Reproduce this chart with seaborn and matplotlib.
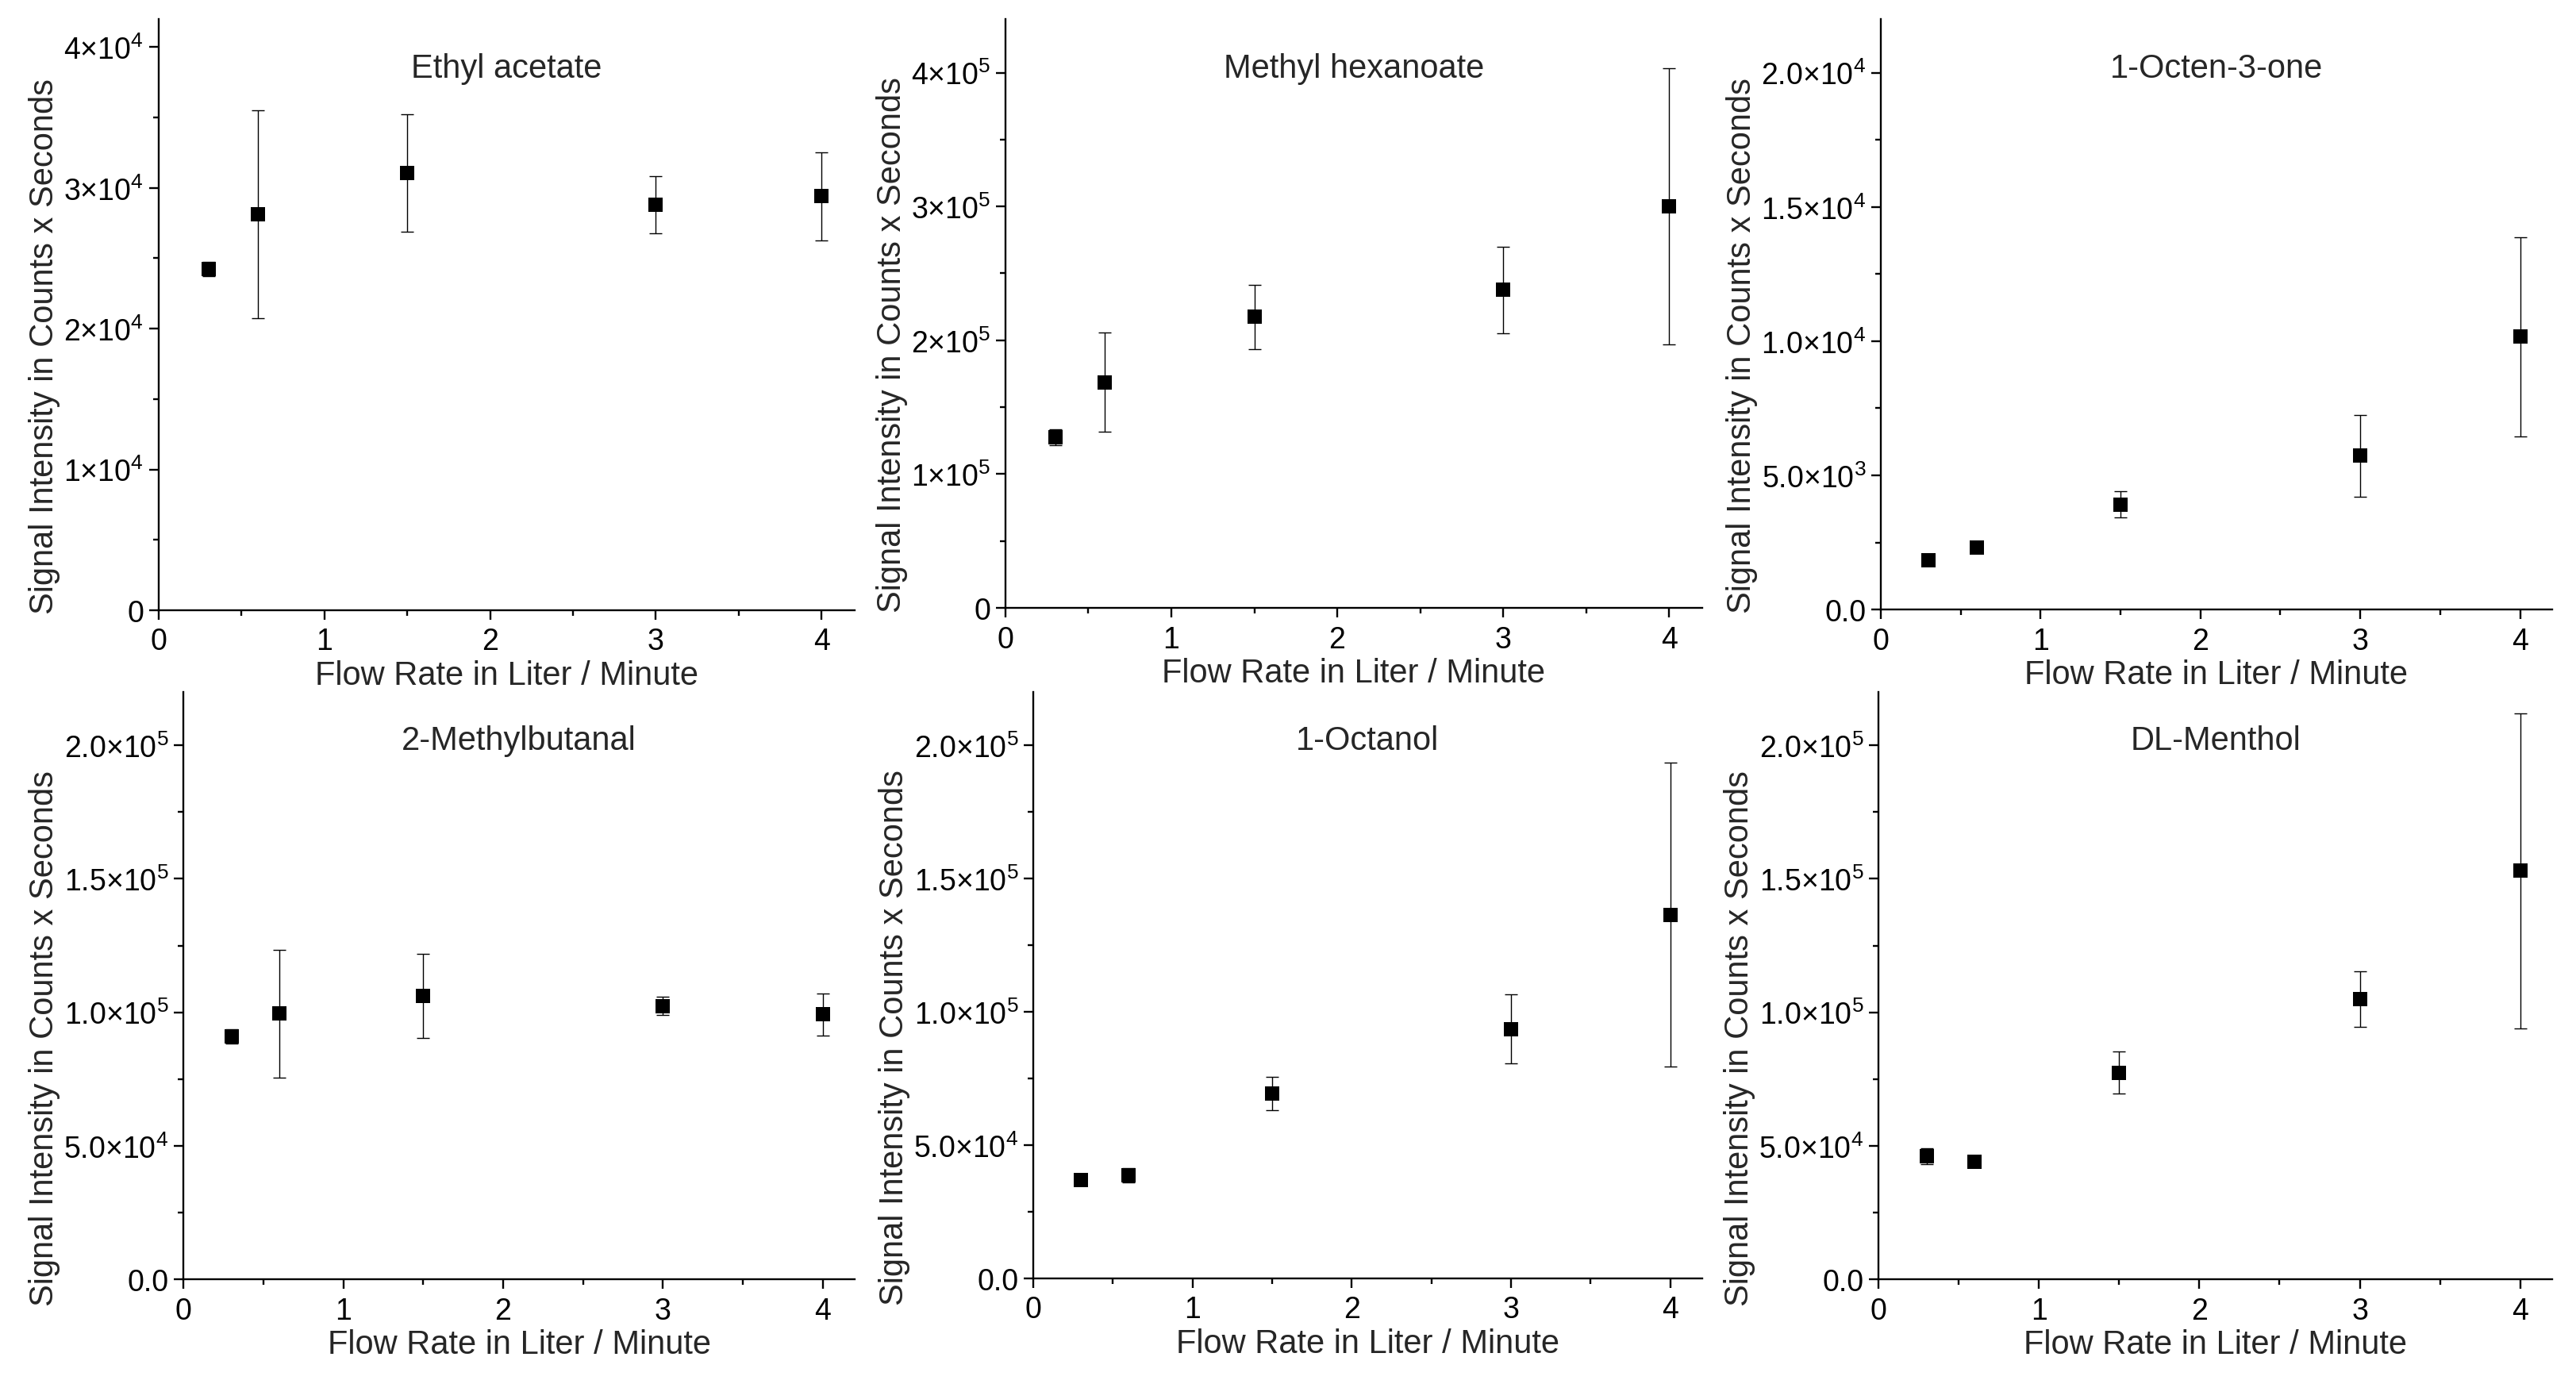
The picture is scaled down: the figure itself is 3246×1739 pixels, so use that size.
import matplotlib
matplotlib.use("Agg")
import matplotlib.pyplot as plt
import seaborn as sns
import numpy as np
import pandas as pd
from matplotlib.ticker import FixedLocator, FuncFormatter, AutoMinorLocator

# flow rates (L/min)
flow = [0.3, 0.6, 1.5, 3.0, 4.0]

# signal values (mean) and error (sd)
ethyl_acetate = [24240, 28130, 31040, 28820, 29410]
ethyl_acetate_err = [500, 7400, 4170, 2020, 3130]

methyl_hexanoate = [127400, 168600, 217500, 237600, 300000]
methyl_hexanoate_err = [6000, 37000, 24000, 32500, 103000]

octenone = [1840, 2320, 3920, 5730, 10160]
octenone_err = [100, 230, 480, 1520, 3720]

methylbutanal = [90900, 99500, 106200, 102400, 99200]
methylbutanal_err = [2700, 24000, 15700, 3500, 7900]

octanol = [36800, 38800, 69300, 93600, 136400]
octanol_err = [800, 2700, 6200, 12900, 57000]

menthol = [46100, 44100, 77400, 104900, 153000]
menthol_err = [3000, 600, 7800, 10300, 59000]

names = ["Ethyl acetate", "Methyl hexanoate", "1-Octen-3-one",
         "2-Methylbutanal", "1-Octanol", "DL-Menthol"]
means = [ethyl_acetate, methyl_hexanoate, octenone, methylbutanal, octanol, menthol]
errs = [ethyl_acetate_err, methyl_hexanoate_err, octenone_err,
        methylbutanal_err, octanol_err, menthol_err]
yticks = [[0, 1e4, 2e4, 3e4, 4e4],
          [0, 1e5, 2e5, 3e5, 4e5],
          [0, 5e3, 1e4, 1.5e4, 2e4],
          [0, 5e4, 1e5, 1.5e5, 2e5],
          [0, 5e4, 1e5, 1.5e5, 2e5],
          [0, 5e4, 1e5, 1.5e5, 2e5]]
ytop = [4.2e4, 4.4e5, 2.2e4, 2.2e5, 2.2e5, 2.2e5]
ydec = [0, 0, 1, 1, 1, 1]

sns.set_theme(style="ticks")
plt.rcParams["font.family"] = ["Liberation Sans", "DejaVu Sans"]
plt.rcParams["mathtext.fontset"] = "custom"
plt.rcParams["mathtext.rm"] = "Liberation Sans"
plt.rcParams["mathtext.default"] = "regular"


def sci_fmt(dec):
    def f(v, pos):
        if v == 0:
            return "0" if dec == 0 else "0." + "0" * dec
        e = int(np.floor(np.log10(abs(v)) + 1e-9))
        m = v / 10 ** e
        return "{:.{d}f}×10$^{{{e}}}$".format(m, d=dec, e=e)
    return FuncFormatter(f)


positions = [[0.0616, 0.5575, 0.2702, 0.4282],
             [0.3903, 0.5592, 0.2705, 0.4264],
             [0.7301, 0.5580, 0.2606, 0.4276],
             [0.0712, 0.0730, 0.2606, 0.4253],
             [0.4011, 0.0736, 0.2597, 0.4247],
             [0.7292, 0.0730, 0.2616, 0.4253]]
# y label sits a bit below the axes centre in the original
ylab_y = [0.448, 0.448, 0.448, 0.412, 0.412, 0.412]

fig = plt.figure(figsize=(32.46, 17.40), dpi=100)

for i in range(6):
    ax = fig.add_axes(positions[i])
    df = pd.DataFrame({"flow": flow, "signal": means[i], "err": errs[i]})
    ax.errorbar(df["flow"], df["signal"], yerr=df["err"], fmt="none",
                ecolor="black", elinewidth=1.0, capsize=6, capthick=1.0, zorder=2)
    sns.scatterplot(data=df, x="flow", y="signal", marker="s", s=150,
                    color="black", edgecolor="black", linewidth=0, ax=ax, zorder=3)
    ax.set_xlim(0, 4.2)
    ax.set_ylim(0, ytop[i])
    ax.xaxis.set_major_locator(FixedLocator([0, 1, 2, 3, 4]))
    ax.xaxis.set_minor_locator(AutoMinorLocator(2))
    ax.yaxis.set_major_locator(FixedLocator(yticks[i]))
    ax.yaxis.set_minor_locator(AutoMinorLocator(2))
    ax.yaxis.set_major_formatter(sci_fmt(ydec[i]))
    ax.tick_params(which="major", direction="out", length=8.5, width=1.7,
                   labelsize=27, color="black", labelcolor="black")
    ax.tick_params(which="minor", direction="out", length=5, width=1.7, color="black")
    ax.tick_params(axis="x", which="major", pad=7)
    ax.tick_params(axis="y", which="major", pad=5)
    for s in ["left", "bottom"]:
        ax.spines[s].set_linewidth(1.7)
        ax.spines[s].set_color("black")
    sns.despine(ax=ax)
    ax.set_xlabel("Flow Rate in Liter / Minute", fontsize=30, labelpad=3)
    ax.set_ylabel("Signal Intensity in Counts x Seconds", fontsize=30, labelpad=3)
    ax.yaxis.label.set_y(ylab_y[i])
    ax.text(0.5, 0.917, names[i], transform=ax.transAxes, ha="center",
            va="center", fontsize=30)

fig.savefig("out.png", dpi=100, facecolor="white")
